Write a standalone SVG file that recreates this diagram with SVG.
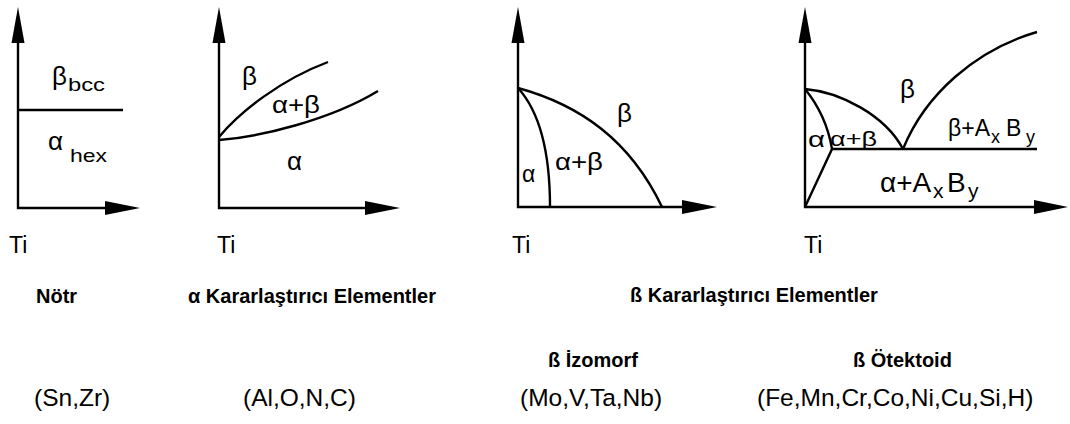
<svg xmlns="http://www.w3.org/2000/svg" width="1070" height="424" viewBox="0 0 1070 424">
<style>
.ln{fill:none;stroke:#000;stroke-width:2.4}
.ah{fill:#000}
.t{font-family:"Liberation Sans",Arial,sans-serif;fill:#000}
.g{font-size:26px}
.s{font-size:19px}
.ti{font-size:23px}
.b{font-family:"Liberation Sans",Arial,sans-serif;font-weight:bold;font-size:20px;fill:#000}
.p{font-family:"Liberation Sans",Arial,sans-serif;font-size:24.5px;fill:#000}
</style>
<rect width="1070" height="424" fill="#fff"/>
<g id="panel-notr">
<path class="ln" d="M18,42 V208 H106"/>
<polygon class="ah" points="18,7 11.5,43 24.5,43"/>
<polygon class="ah" points="140,208 105,201 105,215"/>
<path class="ln" d="M18,110 H123"/>
<text class="t g" x="52" y="85">β</text>
<text class="t s" x="68" y="91" textLength="37" lengthAdjust="spacingAndGlyphs">bcc</text>
<text class="t g" x="48" y="150">α</text>
<text class="t s" x="70" y="162" textLength="37" lengthAdjust="spacingAndGlyphs">hex</text>
<text class="t ti" x="9" y="253">Ti</text>
</g>
<g id="panel-alpha">
<path class="ln" d="M219,42 V208 H366"/>
<polygon class="ah" points="219,7 212.5,43 225.5,43"/>
<polygon class="ah" points="400,208 365,201 365,215"/>
<path class="ln" d="M219,137 C240,112 280,80 328,62"/>
<path class="ln" d="M219,140 C260,137 330,120 378,91"/>
<text class="t g" x="242" y="85">β</text>
<text class="t" x="272" y="113" font-size="23" textLength="48" lengthAdjust="spacingAndGlyphs">α+β</text>
<text class="t g" x="287" y="170">α</text>
<text class="t ti" x="217" y="253">Ti</text>
</g>
<g id="panel-beta-iso">
<path class="ln" d="M518,42 V207 H683"/>
<polygon class="ah" points="518,7 511.5,43 524.5,43"/>
<polygon class="ah" points="717,207 682,200 682,214"/>
<path class="ln" d="M518,88 C580,105 630,140 662,207"/>
<path class="ln" d="M518,88 C538,110 550,150 550,207"/>
<text class="t g" x="617" y="122">β</text>
<text class="t" x="555" y="170" font-size="23" textLength="48" lengthAdjust="spacingAndGlyphs">α+β</text>
<text class="t" x="522" y="182" font-size="23">α</text>
<text class="t ti" x="512" y="253">Ti</text>
</g>
<g id="panel-beta-eut">
<path class="ln" d="M805,42 V207 H1036"/>
<polygon class="ah" points="805,7 798.5,43 811.5,43"/>
<polygon class="ah" points="1068,207 1034,200 1034,214"/>
<path class="ln" d="M832,149 H1037"/>
<path class="ln" d="M805,89 C840,92 885,115 903,149"/>
<path class="ln" d="M903,149 C925,95 975,50 1037,32"/>
<path class="ln" d="M805,89 C818,105 828,125 832,149 L805,207"/>
<text class="t g" x="900" y="98">β</text>
<text class="t" x="830" y="146" font-size="21" textLength="47" lengthAdjust="spacingAndGlyphs">α+β</text>
<text class="t" x="808" y="147" font-size="22" textLength="17" lengthAdjust="spacingAndGlyphs">α</text>
<text class="t" font-size="23" y="136"><tspan x="948">β+A</tspan><tspan x="991" y="143" font-size="18">x</tspan><tspan x="1006" y="136">B</tspan><tspan x="1026" y="143" font-size="18">y</tspan></text>
<text class="t" font-size="28" y="192"><tspan x="880">α+A</tspan><tspan x="933" y="198" font-size="21">x</tspan><tspan x="947" y="192">B</tspan><tspan x="968" y="198" font-size="21">y</tspan></text>
<text class="t ti" x="804" y="253">Ti</text>
</g>
<g id="captions">
<text class="b" x="36" y="303">Nötr</text>
<text class="b" x="188" y="303">α Kararlaştırıcı Elementler</text>
<text class="b" x="630" y="302">ß Kararlaştırıcı Elementler</text>
<text class="b" x="548" y="367">ß İzomorf</text>
<text class="b" x="853" y="367">ß Ötektoid</text>
<text class="p" x="34" y="406">(Sn,Zr)</text>
<text class="p" x="243" y="406">(Al,O,N,C)</text>
<text class="p" x="520" y="406">(Mo,V,Ta,Nb)</text>
<text class="p" x="757" y="406">(Fe,Mn,Cr,Co,Ni,Cu,Si,H)</text>
</g>
</svg>
